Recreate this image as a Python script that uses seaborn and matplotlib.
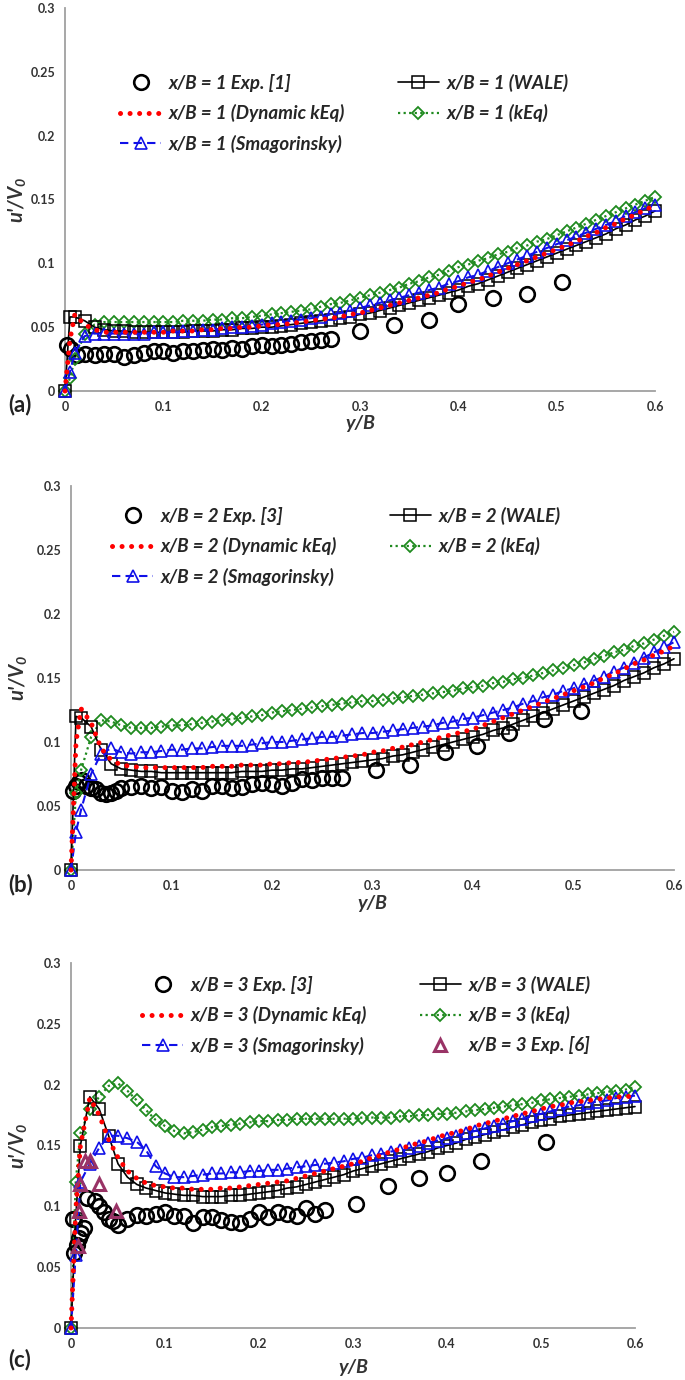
import matplotlib
matplotlib.use("Agg")
import matplotlib.pyplot as plt
import seaborn as sns
from matplotlib.ticker import FuncFormatter, MultipleLocator

# ---- data ----
# common y/B stations of the LES profiles
grid = [0.0, 0.005, 0.01, 0.02, 0.03, 0.04, 0.05, 0.06, 0.07, 0.08, 0.09, 0.10,
        0.11, 0.12, 0.13, 0.14, 0.15, 0.16, 0.17, 0.18, 0.19, 0.20, 0.21, 0.22,
        0.23, 0.24, 0.25, 0.26, 0.27, 0.28, 0.29, 0.30, 0.31, 0.32, 0.33, 0.34,
        0.35, 0.36, 0.37, 0.38, 0.39, 0.40, 0.41, 0.42, 0.43, 0.44, 0.45, 0.46,
        0.47, 0.48, 0.49, 0.50, 0.51, 0.52, 0.53, 0.54, 0.55, 0.56, 0.57, 0.58,
        0.59, 0.60]

# (a) x/B = 1
a_exp_x = [0.002, 0.006, 0.012, 0.02, 0.03, 0.04, 0.05, 0.06, 0.07, 0.08, 0.09, 0.10,
           0.11, 0.12, 0.13, 0.14, 0.15, 0.16, 0.17, 0.18, 0.19, 0.20, 0.21, 0.22,
           0.23, 0.24, 0.25, 0.26, 0.27, 0.30, 0.335, 0.37, 0.40, 0.435, 0.47, 0.505]
a_exp_y = [0.036, 0.033, 0.028, 0.029, 0.028, 0.029, 0.029, 0.027, 0.028, 0.030, 0.031, 0.031,
           0.030, 0.031, 0.031, 0.032, 0.033, 0.032, 0.034, 0.033, 0.035, 0.036, 0.035, 0.036,
           0.037, 0.038, 0.039, 0.040, 0.041, 0.047, 0.052, 0.056, 0.068, 0.073, 0.076, 0.085]
a_wale = [0, 0.058, 0.058, 0.055, 0.050, 0.048, 0.047,
          0.047, 0.046, 0.046, 0.046, 0.046, 0.046, 0.046, 0.047, 0.047, 0.047,
          0.048, 0.048, 0.049, 0.049, 0.050, 0.050, 0.051, 0.052, 0.053, 0.054,
          0.055, 0.056, 0.057, 0.058, 0.060, 0.061, 0.063, 0.065, 0.067, 0.069,
          0.071, 0.073, 0.075, 0.077, 0.079, 0.082, 0.084, 0.087, 0.090, 0.093,
          0.096, 0.099, 0.102, 0.105, 0.108, 0.111, 0.114, 0.117, 0.120, 0.123,
          0.127, 0.130, 0.134, 0.137, 0.141]
a_dyn = [0, 0.040, 0.060, 0.052, 0.048, 0.046, 0.046,
         0.046, 0.046, 0.046, 0.046, 0.046, 0.047, 0.047, 0.047, 0.048, 0.048,
         0.049, 0.049, 0.050, 0.050, 0.051, 0.052, 0.052, 0.053, 0.054, 0.055,
         0.056, 0.057, 0.058, 0.060, 0.061, 0.063, 0.065, 0.067, 0.069, 0.071,
         0.073, 0.075, 0.077, 0.080, 0.082, 0.085, 0.087, 0.090, 0.093, 0.096,
         0.099, 0.102, 0.105, 0.108, 0.111, 0.114, 0.117, 0.121, 0.124, 0.128,
         0.131, 0.135, 0.138, 0.142, 0.145]
a_smag = [0, 0.015, 0.030, 0.043, 0.045, 0.045, 0.045,
          0.045, 0.045, 0.045, 0.046, 0.046, 0.046, 0.047, 0.047, 0.048, 0.048,
          0.049, 0.050, 0.050, 0.051, 0.052, 0.053, 0.054, 0.055, 0.056, 0.057,
          0.058, 0.060, 0.061, 0.063, 0.065, 0.067, 0.069, 0.071, 0.073, 0.075,
          0.077, 0.079, 0.081, 0.084, 0.086, 0.089, 0.091, 0.094, 0.097, 0.100,
          0.103, 0.106, 0.109, 0.112, 0.115, 0.118, 0.121, 0.124, 0.127, 0.130,
          0.133, 0.137, 0.140, 0.143, 0.146]
a_keq = [0, 0.010, 0.025, 0.045, 0.052, 0.054, 0.054,
         0.054, 0.054, 0.054, 0.054, 0.054, 0.054, 0.055, 0.055, 0.055, 0.056,
         0.056, 0.057, 0.057, 0.058, 0.059, 0.060, 0.061, 0.062, 0.063, 0.064,
         0.066, 0.068, 0.069, 0.071, 0.073, 0.075, 0.077, 0.079, 0.081, 0.084,
         0.086, 0.089, 0.091, 0.094, 0.097, 0.099, 0.102, 0.104, 0.107, 0.109,
         0.112, 0.114, 0.117, 0.119, 0.122, 0.125, 0.128, 0.131, 0.134, 0.137,
         0.140, 0.143, 0.146, 0.149, 0.152]

# (b) x/B = 2
b_exp_x = [0.002, 0.005, 0.008, 0.011, 0.015, 0.020, 0.025, 0.030, 0.035, 0.040, 0.045, 0.050,
           0.06, 0.07, 0.08, 0.09, 0.10, 0.11, 0.12, 0.13, 0.14, 0.15, 0.16, 0.17,
           0.18, 0.19, 0.20, 0.21, 0.22, 0.23, 0.24, 0.25, 0.26, 0.27,
           0.303, 0.337, 0.372, 0.404, 0.436, 0.471, 0.507]
b_exp_y = [0.062, 0.066, 0.069, 0.070, 0.066, 0.064, 0.063, 0.060, 0.059, 0.060, 0.062, 0.064,
           0.065, 0.066, 0.064, 0.065, 0.062, 0.061, 0.063, 0.062, 0.066, 0.066, 0.064, 0.065,
           0.067, 0.068, 0.067, 0.066, 0.068, 0.071, 0.070, 0.072, 0.072, 0.072,
           0.078, 0.082, 0.092, 0.097, 0.107, 0.118, 0.124]
b_wale = [0, 0.120, 0.119, 0.112, 0.094, 0.083, 0.079,
          0.078, 0.077, 0.077, 0.076, 0.076, 0.076, 0.076, 0.076, 0.076, 0.076,
          0.076, 0.077, 0.077, 0.077, 0.078, 0.078, 0.079, 0.079, 0.080, 0.081,
          0.082, 0.083, 0.084, 0.085, 0.086, 0.087, 0.089, 0.090, 0.092, 0.094,
          0.096, 0.098, 0.100, 0.102, 0.104, 0.106, 0.109, 0.111, 0.114, 0.117,
          0.120, 0.123, 0.126, 0.129, 0.132, 0.135, 0.138, 0.141, 0.144, 0.148,
          0.151, 0.154, 0.158, 0.161, 0.165]
b_dyn = [0, 0.100, 0.126, 0.115, 0.095, 0.086, 0.082,
         0.081, 0.080, 0.080, 0.080, 0.080, 0.080, 0.080, 0.080, 0.081, 0.081,
         0.081, 0.082, 0.082, 0.082, 0.083, 0.083, 0.084, 0.084, 0.085, 0.086,
         0.087, 0.088, 0.089, 0.090, 0.092, 0.093, 0.095, 0.096, 0.098, 0.100,
         0.102, 0.104, 0.106, 0.108, 0.110, 0.113, 0.116, 0.119, 0.122, 0.125,
         0.128, 0.131, 0.134, 0.137, 0.140, 0.143, 0.146, 0.150, 0.153, 0.157,
         0.161, 0.164, 0.168, 0.171, 0.175]
b_smag = [0, 0.030, 0.047, 0.075, 0.091, 0.095, 0.092,
          0.091, 0.092, 0.092, 0.093, 0.094, 0.094, 0.095, 0.095, 0.096, 0.097,
          0.097, 0.097, 0.098, 0.099, 0.100, 0.100, 0.101, 0.102, 0.103, 0.104,
          0.104, 0.105, 0.106, 0.107, 0.107, 0.108, 0.109, 0.110, 0.111, 0.112,
          0.113, 0.115, 0.116, 0.118, 0.119, 0.121, 0.123, 0.125, 0.127, 0.130,
          0.132, 0.135, 0.137, 0.140, 0.142, 0.145, 0.148, 0.151, 0.155, 0.158,
          0.162, 0.166, 0.170, 0.174, 0.178]
b_keq = [0, 0.060, 0.078, 0.104, 0.117, 0.116, 0.113,
         0.111, 0.111, 0.111, 0.112, 0.113, 0.113, 0.114, 0.115, 0.116, 0.117,
         0.118, 0.119, 0.120, 0.121, 0.123, 0.124, 0.125, 0.126, 0.127, 0.128,
         0.129, 0.130, 0.131, 0.132, 0.132, 0.133, 0.134, 0.135, 0.136, 0.137,
         0.138, 0.139, 0.140, 0.142, 0.143, 0.144, 0.146, 0.147, 0.149, 0.150,
         0.152, 0.154, 0.156, 0.158, 0.160, 0.162, 0.165, 0.167, 0.170, 0.172,
         0.175, 0.177, 0.180, 0.183, 0.186]

# (c) x/B = 3
c_exp_x = [0.002, 0.003, 0.006, 0.008, 0.011, 0.014, 0.017, 0.025, 0.030, 0.035, 0.040, 0.045,
           0.050, 0.06, 0.07, 0.08, 0.09, 0.10, 0.11, 0.12, 0.13, 0.14, 0.15, 0.16,
           0.17, 0.18, 0.19, 0.20, 0.21, 0.22, 0.23, 0.24, 0.25, 0.26, 0.27,
           0.303, 0.337, 0.370, 0.400, 0.436, 0.505]
c_exp_y = [0.090, 0.062, 0.068, 0.074, 0.078, 0.082, 0.107, 0.104, 0.100, 0.095, 0.090, 0.088,
           0.085, 0.090, 0.093, 0.092, 0.094, 0.095, 0.092, 0.092, 0.086, 0.091, 0.091, 0.089,
           0.087, 0.086, 0.090, 0.095, 0.091, 0.095, 0.094, 0.092, 0.099, 0.094, 0.097,
           0.102, 0.117, 0.123, 0.127, 0.137, 0.153]
c_exp6_x = [0.007, 0.008, 0.010, 0.015, 0.020, 0.030, 0.048]
c_exp6_y = [0.067, 0.096, 0.118, 0.137, 0.137, 0.118, 0.096]
c_wale = [0, 0.090, 0.150, 0.190, 0.180, 0.158, 0.135,
          0.124, 0.118, 0.115, 0.113, 0.111, 0.110, 0.109, 0.109, 0.108, 0.108,
          0.108, 0.109, 0.109, 0.110, 0.111, 0.112, 0.113, 0.115, 0.116, 0.118,
          0.120, 0.122, 0.124, 0.126, 0.129, 0.131, 0.133, 0.135, 0.137, 0.139,
          0.141, 0.143, 0.145, 0.148, 0.150, 0.152, 0.155, 0.157, 0.159, 0.161,
          0.163, 0.165, 0.167, 0.169, 0.171, 0.172, 0.174, 0.175, 0.176, 0.177,
          0.178, 0.179, 0.180, 0.181, 0.182]
c_dyn = [0, 0.095, 0.150, 0.189, 0.175, 0.155, 0.140,
         0.129, 0.123, 0.119, 0.117, 0.116, 0.115, 0.115, 0.114, 0.114, 0.114,
         0.115, 0.115, 0.116, 0.117, 0.118, 0.119, 0.120, 0.121, 0.123, 0.125,
         0.127, 0.129, 0.131, 0.133, 0.135, 0.137, 0.140, 0.142, 0.145, 0.147,
         0.150, 0.152, 0.154, 0.157, 0.159, 0.161, 0.163, 0.166, 0.168, 0.170,
         0.172, 0.174, 0.176, 0.178, 0.180, 0.182, 0.183, 0.185, 0.186, 0.187,
         0.188, 0.189, 0.190, 0.190, 0.191]
c_smag = [0, 0.060, 0.120, 0.135, 0.148, 0.158, 0.158,
          0.156, 0.153, 0.146, 0.133, 0.127, 0.124, 0.124, 0.125, 0.126, 0.127,
          0.127, 0.128, 0.128, 0.129, 0.129, 0.130, 0.130, 0.131, 0.132, 0.133,
          0.134, 0.135, 0.136, 0.137, 0.139, 0.140, 0.142, 0.143, 0.145, 0.146,
          0.148, 0.150, 0.152, 0.154, 0.156, 0.158, 0.160, 0.162, 0.164, 0.166,
          0.168, 0.170, 0.172, 0.174, 0.176, 0.178, 0.180, 0.182, 0.183, 0.185,
          0.186, 0.187, 0.189, 0.190, 0.191]
c_keq = [0, 0.120, 0.160, 0.180, 0.190, 0.199, 0.201,
         0.195, 0.187, 0.179, 0.171, 0.166, 0.162, 0.160, 0.161, 0.163, 0.165,
         0.166, 0.167, 0.168, 0.169, 0.170, 0.170, 0.171, 0.171, 0.172, 0.172,
         0.172, 0.172, 0.172, 0.172, 0.172, 0.173, 0.173, 0.173, 0.173, 0.174,
         0.174, 0.175, 0.175, 0.176, 0.176, 0.177, 0.178, 0.179, 0.180, 0.181,
         0.182, 0.183, 0.184, 0.185, 0.187, 0.188, 0.189, 0.190, 0.191, 0.192,
         0.193, 0.194, 0.195, 0.196, 0.198]

# ---- style ----
sns.set_style("white")
plt.rcParams['font.family'] = ['Lato', 'DejaVu Sans']
plt.rcParams['mathtext.fontset'] = 'custom'
plt.rcParams['mathtext.rm'] = 'Lato:bold:italic'
plt.rcParams['mathtext.it'] = 'Lato:bold:italic'

W, H = 685, 1380
fig = plt.figure(figsize=(W / 100, H / 100), dpi=100)

AXCOL = '#a0a0a0'
TXTCOL = '#333333'
GREEN = '#1f8a1f'
BLUE = '#1010e8'
RED = '#ff0000'
PURPLE = '#993366'
leg_font = dict(family='Lato', weight='bold', style='italic', size=13.5)


def add_axes_px(left, right, top, bottom):
    return fig.add_axes([left / W, 1 - bottom / H, (right - left) / W, (bottom - top) / H])


def last_line(ax):
    return ax.lines[-1]


def draw_panel(ax, n, exp_x, exp_y, wale, dyn, smag, keq, exp_ref,
               leg_xy, exp6=None):
    sns.lineplot(x=exp_x, y=exp_y, ax=ax, color='black', linestyle='none',
                 marker='o', markersize=10.5, mfc='none', mec='black', mew=1.9,
                 clip_on=False, zorder=3)
    h_exp = last_line(ax)
    sns.lineplot(x=grid, y=keq, ax=ax, color=GREEN, linestyle=(0, (1, 1.5)), lw=1.6,
                 marker='D', markersize=6.5, mfc='none', mec=GREEN, mew=1.3,
                 clip_on=False, zorder=4)
    h_keq = last_line(ax)
    sns.lineplot(x=grid, y=wale, ax=ax, color='black', linestyle='-', lw=1.2,
                 marker='s', markersize=8, mfc='none', mec='black', mew=1.1,
                 clip_on=False, zorder=4)
    h_wale = last_line(ax)
    sns.lineplot(x=grid, y=smag, ax=ax, color=BLUE, linestyle=(0, (4, 2.5)), lw=1.5,
                 marker='^', markersize=8, mfc='none', mec=BLUE, mew=1.2,
                 clip_on=False, zorder=5)
    h_smag = last_line(ax)
    sns.lineplot(x=grid, y=dyn, ax=ax, color=RED, linestyle=(0, (0.01, 1.9)), lw=3.6,
                 dash_capstyle='round', clip_on=False, zorder=6)
    h_dyn = last_line(ax)

    handles = [h_exp, h_dyn, h_smag, h_wale, h_keq]
    labels = [f"x/B = {n} Exp. [{exp_ref}]", f"x/B = {n} (Dynamic kEq)",
              f"x/B = {n} (Smagorinsky)", f"x/B = {n} (WALE)", f"x/B = {n} (kEq)"]
    if exp6 is not None:
        sns.lineplot(x=exp6[0], y=exp6[1], ax=ax, color=PURPLE, linestyle='none',
                     marker='^', markersize=9, mfc='none', mec=PURPLE, mew=2.2,
                     clip_on=False, zorder=7)
        handles.append(last_line(ax))
        labels.append(f"x/B = {n} Exp. [6]")

    ax.legend(handles=handles, labels=labels, ncol=2, loc='upper left',
              bbox_to_anchor=(leg_xy[0] / W, 1 - leg_xy[1] / H),
              bbox_transform=fig.transFigure, frameon=False, prop=leg_font,
              handlelength=2.2, handletextpad=0.4, columnspacing=2.8,
              labelspacing=0.65, borderpad=0, borderaxespad=0, numpoints=1)

    ax.set_xlim(0, 0.6)
    ax.set_ylim(0, 0.3)
    ax.xaxis.set_major_locator(MultipleLocator(0.1))
    ax.yaxis.set_major_locator(MultipleLocator(0.05))
    fmt = FuncFormatter(lambda v, p: f"{round(v, 3):g}")
    ax.xaxis.set_major_formatter(fmt)
    ax.yaxis.set_major_formatter(fmt)
    for s in ['top', 'right']:
        ax.spines[s].set_visible(False)
    for s in ['left', 'bottom']:
        ax.spines[s].set_color(AXCOL)
        ax.spines[s].set_linewidth(1.3)
    ax.tick_params(direction='inout', length=8, width=1.1, color=AXCOL,
                   labelcolor=TXTCOL, labelsize=9, pad=3)
    for lab in ax.get_xticklabels() + ax.get_yticklabels():
        lab.set_fontweight('bold')
    ax.set_xlabel("y/B", fontsize=14, fontweight='bold', fontstyle='italic', color=TXTCOL)
    ax.set_ylabel("u'/V$_0$", fontsize=14.5, fontweight='bold', fontstyle='italic', color=TXTCOL)
    ax.xaxis.label.set_va('center')
    ax.yaxis.label.set_va('center')
    ax.patch.set_alpha(0)


ax_a = add_axes_px(65, 655, 8, 391)
draw_panel(ax_a, 1, a_exp_x, a_exp_y, a_wale, a_dyn, a_smag, a_keq, 1, (120, 74))
ax_a.xaxis.set_label_coords(0.5, -(423 - 391) / 383)
ax_a.yaxis.set_label_coords(-(65 - 18) / 590, 0.5)

ax_b = add_axes_px(71, 674, 486, 870)
draw_panel(ax_b, 2, b_exp_x, b_exp_y, b_wale, b_dyn, b_smag, b_keq, 3, (112, 507))
ax_b.xaxis.set_label_coords(0.5, -(903 - 870) / 384)
ax_b.yaxis.set_label_coords(-(71 - 19) / 603, 0.5)

ax_c = add_axes_px(71, 635, 963, 1328)
draw_panel(ax_c, 3, c_exp_x, c_exp_y, c_wale, c_dyn, c_smag, c_keq, 3, (142, 976),
           exp6=(c_exp6_x, c_exp6_y))
ax_c.xaxis.set_label_coords(0.5, -(1368 - 1328) / 365)
ax_c.yaxis.set_label_coords(-(71 - 19) / 564, 0.5)

for lab, ypx in [("(a)", 405), ("(b)", 885), ("(c)", 1360)]:
    fig.text(8 / W, 1 - ypx / H, lab, fontsize=16, fontweight='bold', color='#222222',
             ha='left', va='center')

fig.savefig("out.png", dpi=100)
